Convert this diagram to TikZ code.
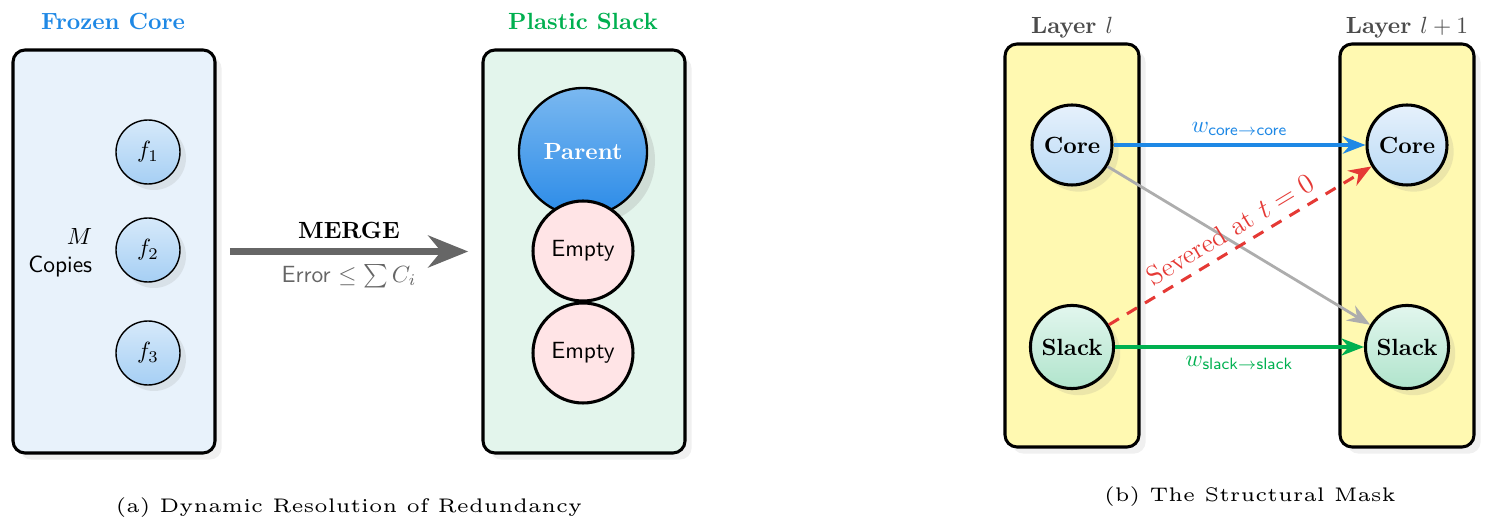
\documentclass[tikz,border=0pt]{standalone}
\usepackage{amsmath,amssymb}
\usetikzlibrary{arrows.meta,shadows}
\definecolor{frzblue}{HTML}{1E88E5}
\definecolor{frzfill}{HTML}{E8F2FB}
\definecolor{plsgreen}{HTML}{00B050}
\definecolor{plsfill}{HTML}{E3F5EC}
\definecolor{ftop}{HTML}{D6E9FA}
\definecolor{fbot}{HTML}{A6CFF4}
\definecolor{partop}{HTML}{7AB8F0}
\definecolor{parbot}{HTML}{2B8BE8}
\definecolor{emptypink}{HTML}{FFE4E6}
\definecolor{layfill}{HTML}{FFF9B1}
\definecolor{coretop}{HTML}{E6F1FC}
\definecolor{corebot}{HTML}{B8D9F5}
\definecolor{slacktop}{HTML}{E2F6EE}
\definecolor{slackbot}{HTML}{B0E4CC}
\definecolor{sevred}{HTML}{E53935}
\definecolor{mergegray}{HTML}{666666}

\begin{document}
\begin{tikzpicture}[
  >={Stealth[length=3.4mm, width=2.6mm]},
  panel/.style={draw, line width=1.3pt, rounded corners=0.18cm,
    minimum height=6.045cm,
    drop shadow={shadow xshift=0.1cm, shadow yshift=-0.1cm, opacity=0.12}},
  ttl/.style={font=\bfseries},
  fnode/.style={circle, draw, semithick, minimum size=0.96cm,
    top color=ftop, bottom color=fbot,
    drop shadow={shadow xshift=0.09cm, shadow yshift=-0.09cm, opacity=0.15}},
  emptynode/.style={circle, draw, line width=1.3pt, minimum size=1.5cm,
    fill=emptypink, font=\sffamily},
  unit/.style={circle, draw, line width=1.3pt, minimum size=1.2cm,
    font=\bfseries,
    drop shadow={shadow xshift=0.1cm, shadow yshift=-0.1cm, opacity=0.15}},
  capt/.style={font=\tiny, scale=1.68}
]
\useasboundingbox (0,0) rectangle (22.425,7.965);
% (a) frozen core and plastic slack
\node[panel, fill=frzfill, minimum width=3.03cm] (frozen) at (1.71,4.1925) {};
\node[panel, fill=plsfill, minimum width=3.03cm] (slack) at (8.76,4.1925) {};
\node[ttl, text=frzblue] (frztitle) at (1.695,7.65) {Frozen Core};
\node[ttl, text=plsgreen] (plstitle) at (8.745,7.65) {Plastic Slack};
\node[fnode] (f1) at (2.22,5.685) {$f_1$};
\node[fnode] (f2) at (2.22,4.215) {$f_2$};
\node[fnode] (f3) at (2.22,2.67) {$f_3$};
\node[align=right, anchor=east, inner sep=0pt] (copies) at (1.39,4.17)
  {$M$\\ \textsf{Copies}};
\node[circle, draw, line width=1pt, minimum size=1.92cm,
  top color=partop, bottom color=parbot, text=white, font=\bfseries,
  drop shadow={shadow xshift=0.12cm, shadow yshift=-0.12cm, opacity=0.2}]
  (parent) at (8.745,5.685) {Parent};
\node[emptynode] (empty1) at (8.745,4.2) {Empty};
\node[emptynode] (empty2) at (8.745,2.67) {Empty};
\draw[-{Stealth[length=6mm, width=4.8mm]}, mergegray, line width=2.6pt,
  shorten <=0.2cm, shorten >=0.2cm] (frozen.east) --
  node[above=1pt, text=black, font=\bfseries] {MERGE}
  node[below=1pt, text=mergegray, font=\sffamily] {Error $\leq \sum C_i$}
  (slack.west);
\node[capt] (capa) at (5.235,0.345) {(a) Dynamic Resolution of Redundancy};
% (b) the two layers
\node[panel, fill=layfill, minimum width=2.01cm] (layl) at (16.08,4.2825) {};
\node[panel, fill=layfill, minimum width=2.01cm] (laylp) at (21.105,4.2825) {};
\node[ttl, text=black!70] (laytitle) at (16.08,7.545) {Layer $l$};
\node[ttl, text=black!70] (laytitlep) at (21.105,7.545) {Layer $l+1$};
\node[unit, top color=coretop, bottom color=corebot] (coreL) at (16.08,5.79) {Core};
\node[unit, top color=slacktop, bottom color=slackbot] (slackL) at (16.08,2.76) {Slack};
\node[unit, top color=coretop, bottom color=corebot] (coreR) at (21.105,5.79) {Core};
\node[unit, top color=slacktop, bottom color=slackbot] (slackR) at (21.105,2.76) {Slack};
\draw[->, frzblue, line width=1.3pt] (coreL) --
  node[above] {$w_{\mathsf{core}\to\mathsf{core}}$} (coreR);
\draw[->, plsgreen, line width=1.3pt] (slackL) --
  node[below] {$w_{\mathsf{slack}\to\mathsf{slack}}$} (slackR);
\draw[->, black!32, line width=1.2pt] (coreL) -- (slackR);
\draw[->, sevred, line width=1.3pt, dash pattern=on 5pt off 4pt] (slackL) --
  node[sloped, above, font=\fontsize{11.5}{13}\selectfont] {Severed at $t=0$} (coreR);
\node[capt] (capb) at (18.75,0.51) {(b) The Structural Mask};
\end{tikzpicture}
\end{document}
